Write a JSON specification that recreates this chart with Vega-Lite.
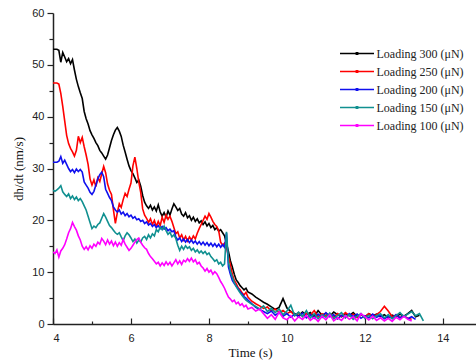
{
  "$schema": "https://vega.github.io/schema/vega-lite/v6.json",
  "width": 423,
  "height": 311,
  "autosize": {"type": "none"},
  "padding": {"left": 53, "top": 13, "right": 0, "bottom": 37},
  "background": "white",
  "config": {"view": {"stroke": null}},
  "data": {"values": [
    {"t":4.00,"300":53.0,"250":46.5,"200":31.2,"150":25.8,"100":13.9},
    {"t":4.05,"300":53.0,"250":46.5,"200":31.2,"150":25.6,"100":13.6},
    {"t":4.10,"300":53.0,"250":46.5,"200":31.2,"150":25.9,"100":14.3},
    {"t":4.15,"300":52.8,"250":46.3,"200":31.4,"150":26.2,"100":12.9},
    {"t":4.20,"300":50.5,"250":44.5,"200":32.3,"150":26.7,"100":14.1},
    {"t":4.25,"300":52.4,"250":42.0,"200":31.0,"150":25.5,"100":14.6},
    {"t":4.30,"300":51.5,"250":39.2,"200":31.6,"150":25.0,"100":15.3},
    {"t":4.35,"300":50.6,"250":36.4,"200":30.8,"150":24.6,"100":16.4},
    {"t":4.40,"300":51.2,"250":34.8,"200":30.0,"150":25.1,"100":17.6},
    {"t":4.45,"300":50.2,"250":33.9,"200":29.4,"150":24.2,"100":18.4},
    {"t":4.50,"300":51.0,"250":33.2,"200":29.8,"150":24.7,"100":19.6},
    {"t":4.55,"300":49.0,"250":32.4,"200":29.2,"150":24.0,"100":18.8},
    {"t":4.60,"300":47.2,"250":33.5,"200":29.9,"150":24.5,"100":18.1},
    {"t":4.65,"300":45.8,"250":36.2,"200":29.4,"150":23.8,"100":17.0},
    {"t":4.70,"300":44.6,"250":35.0,"200":29.8,"150":24.2,"100":16.2},
    {"t":4.75,"300":43.5,"250":36.0,"200":29.3,"150":23.6,"100":15.0},
    {"t":4.80,"300":41.0,"250":34.2,"200":27.4,"150":22.8,"100":14.4},
    {"t":4.85,"300":39.6,"250":32.6,"200":26.8,"150":22.0,"100":14.9},
    {"t":4.90,"300":38.6,"250":30.8,"200":26.2,"150":20.8,"100":14.3},
    {"t":4.95,"300":37.3,"250":28.0,"200":25.4,"150":19.6,"100":15.1},
    {"t":5.00,"300":36.5,"250":26.8,"200":25.0,"150":18.4,"100":14.6},
    {"t":5.05,"300":35.8,"250":27.8,"200":25.6,"150":18.9,"100":15.4},
    {"t":5.10,"300":35.0,"250":26.5,"200":26.8,"150":18.6,"100":15.0},
    {"t":5.15,"300":34.4,"250":28.2,"200":28.0,"150":19.2,"100":15.8},
    {"t":5.20,"300":33.5,"250":27.5,"200":28.8,"150":19.5,"100":15.4},
    {"t":5.25,"300":33.0,"250":29.0,"200":29.3,"150":20.4,"100":16.5},
    {"t":5.30,"300":32.4,"250":30.4,"200":28.4,"150":21.3,"100":16.0},
    {"t":5.35,"300":31.8,"250":29.2,"200":26.0,"150":20.6,"100":15.3},
    {"t":5.40,"300":32.6,"250":27.0,"200":25.2,"150":19.8,"100":16.2},
    {"t":5.45,"300":34.0,"250":25.8,"200":24.4,"150":19.0,"100":15.4},
    {"t":5.50,"300":35.4,"250":25.0,"200":23.8,"150":18.6,"100":16.0},
    {"t":5.55,"300":36.5,"250":22.0,"200":22.6,"150":18.1,"100":15.1},
    {"t":5.60,"300":37.4,"250":19.4,"200":22.0,"150":17.6,"100":15.8},
    {"t":5.65,"300":37.9,"250":21.5,"200":21.6,"150":17.3,"100":15.0},
    {"t":5.70,"300":37.2,"250":23.2,"200":22.0,"150":17.6,"100":15.7},
    {"t":5.75,"300":36.2,"250":22.5,"200":21.2,"150":16.8,"100":15.2},
    {"t":5.80,"300":34.5,"250":24.0,"200":21.6,"150":16.1,"100":16.3},
    {"t":5.85,"300":33.2,"250":25.2,"200":20.9,"150":17.0,"100":15.4},
    {"t":5.90,"300":31.8,"250":24.6,"200":21.3,"150":17.6,"100":14.8},
    {"t":5.95,"300":30.5,"250":26.0,"200":20.7,"150":17.2,"100":14.2},
    {"t":6.00,"300":29.6,"250":27.2,"200":21.0,"150":16.6,"100":14.6},
    {"t":6.05,"300":29.0,"250":30.5,"200":20.4,"150":15.9,"100":15.2},
    {"t":6.10,"300":28.2,"250":32.2,"200":20.7,"150":16.4,"100":15.8},
    {"t":6.15,"300":27.3,"250":30.0,"200":20.1,"150":15.6,"100":16.3},
    {"t":6.20,"300":27.8,"250":27.4,"200":20.3,"150":16.2,"100":16.6},
    {"t":6.25,"300":26.6,"250":25.4,"200":19.8,"150":15.8,"100":15.8},
    {"t":6.30,"300":24.8,"250":22.2,"200":20.0,"150":16.6,"100":15.2},
    {"t":6.35,"300":23.5,"250":21.0,"200":19.4,"150":16.9,"100":14.7},
    {"t":6.40,"300":22.8,"250":20.4,"200":19.7,"150":16.3,"100":14.4},
    {"t":6.45,"300":22.3,"250":19.6,"200":19.1,"150":17.2,"100":13.6},
    {"t":6.50,"300":22.9,"250":20.3,"200":19.4,"150":16.6,"100":13.0},
    {"t":6.55,"300":22.0,"250":19.2,"200":18.8,"150":17.4,"100":12.6},
    {"t":6.60,"300":22.6,"250":20.0,"200":19.2,"150":17.0,"100":12.1},
    {"t":6.65,"300":21.8,"250":18.8,"200":18.6,"150":18.2,"100":11.6},
    {"t":6.70,"300":23.0,"250":19.8,"200":19.0,"150":17.8,"100":11.9},
    {"t":6.75,"300":21.6,"250":19.0,"200":18.4,"150":18.7,"100":11.2},
    {"t":6.80,"300":20.8,"250":20.6,"200":18.8,"150":18.2,"100":11.8},
    {"t":6.85,"300":21.5,"250":19.6,"200":18.3,"150":18.9,"100":11.3},
    {"t":6.90,"300":20.6,"250":21.0,"200":18.6,"150":18.0,"100":12.0},
    {"t":6.95,"300":21.8,"250":20.2,"200":18.0,"150":17.3,"100":11.4},
    {"t":7.00,"300":21.0,"250":20.8,"200":18.3,"150":17.7,"100":11.9},
    {"t":7.05,"300":22.2,"250":19.8,"200":17.8,"150":16.8,"100":11.2},
    {"t":7.10,"300":23.2,"250":18.6,"200":18.0,"150":17.2,"100":11.8},
    {"t":7.15,"300":22.6,"250":17.4,"200":16.8,"150":16.5,"100":12.4},
    {"t":7.20,"300":21.9,"250":17.8,"200":16.2,"150":15.2,"100":11.6},
    {"t":7.25,"300":22.3,"250":16.6,"200":16.6,"150":14.2,"100":12.2},
    {"t":7.30,"300":21.2,"250":17.2,"200":15.9,"150":15.0,"100":11.5},
    {"t":7.35,"300":20.8,"250":16.2,"200":16.4,"150":14.4,"100":12.3},
    {"t":7.40,"300":21.5,"250":16.9,"200":15.8,"150":15.1,"100":12.0},
    {"t":7.45,"300":20.5,"250":16.0,"200":16.3,"150":14.6,"100":12.6},
    {"t":7.50,"300":20.9,"250":16.8,"200":15.7,"150":14.9,"100":12.1},
    {"t":7.55,"300":20.0,"250":16.2,"200":16.2,"150":14.2,"100":12.7},
    {"t":7.60,"300":20.6,"250":17.0,"200":15.6,"150":14.6,"100":12.0},
    {"t":7.65,"300":19.8,"250":16.4,"200":16.0,"150":13.9,"100":12.4},
    {"t":7.70,"300":20.3,"250":17.5,"200":15.4,"150":14.3,"100":11.6},
    {"t":7.75,"300":19.5,"250":18.4,"200":15.9,"150":13.7,"100":11.9},
    {"t":7.80,"300":19.9,"250":19.2,"200":15.3,"150":14.1,"100":11.2},
    {"t":7.85,"300":19.2,"250":20.0,"200":15.8,"150":13.6,"100":10.8},
    {"t":7.90,"300":19.7,"250":20.8,"200":15.2,"150":14.0,"100":10.2},
    {"t":7.95,"300":18.9,"250":20.2,"200":15.7,"150":13.4,"100":10.7},
    {"t":8.00,"300":19.4,"250":21.3,"200":15.1,"150":13.7,"100":10.0},
    {"t":8.05,"300":18.6,"250":20.6,"200":15.6,"150":13.0,"100":10.4},
    {"t":8.10,"300":19.0,"250":19.8,"200":15.0,"150":12.6,"100":9.6},
    {"t":8.15,"300":18.2,"250":19.2,"200":15.5,"150":12.1,"100":10.1},
    {"t":8.20,"300":18.6,"250":18.8,"200":14.9,"150":12.4,"100":9.7},
    {"t":8.25,"300":17.9,"250":18.0,"200":15.4,"150":11.6,"100":9.0},
    {"t":8.30,"300":18.2,"250":15.8,"200":14.8,"150":11.9,"100":8.2},
    {"t":8.35,"300":17.6,"250":15.2,"200":15.3,"150":11.2,"100":7.6},
    {"t":8.40,"300":17.0,"250":15.6,"200":14.8,"150":11.6,"100":6.9},
    {"t":8.45,"300":15.5,"250":14.8,"200":17.6,"150":17.8,"100":6.0},
    {"t":8.50,"300":14.0,"250":13.0,"200":11.0,"150":12.0,"100":5.2},
    {"t":8.55,"300":12.2,"250":11.4,"200":9.6,"150":10.2,"100":4.8},
    {"t":8.60,"300":11.0,"250":9.6,"200":8.4,"150":9.0,"100":4.3},
    {"t":8.65,"300":9.6,"250":8.4,"200":7.8,"150":8.0,"100":4.6},
    {"t":8.70,"300":8.5,"250":7.8,"200":7.3,"150":7.2,"100":3.9},
    {"t":8.75,"300":8.0,"250":7.0,"200":6.8,"150":6.6,"100":4.2},
    {"t":8.80,"300":7.4,"250":6.6,"200":6.2,"150":6.0,"100":3.6},
    {"t":8.85,"300":7.0,"250":6.0,"200":5.8,"150":5.5,"100":3.9},
    {"t":8.90,"300":6.6,"250":5.6,"200":5.3,"150":5.0,"100":3.3},
    {"t":8.95,"300":6.9,"250":6.1,"200":5.0,"150":4.6,"100":3.6},
    {"t":9.00,"300":6.2,"250":5.2,"200":4.6,"150":4.3,"100":2.9},
    {"t":9.1,"300":5.8,"250":4.4,"200":3.9,"150":3.8,"100":3.2},
    {"t":9.2,"300":5.2,"250":3.9,"200":3.2,"150":3.4,"100":2.5},
    {"t":9.3,"300":4.7,"250":3.5,"200":2.8,"150":2.9,"100":2.9},
    {"t":9.4,"300":4.2,"250":3.0,"200":2.4,"150":3.5,"100":2.0},
    {"t":9.5,"300":3.8,"250":3.3,"200":2.0,"150":2.4,"100":1.1},
    {"t":9.6,"300":3.3,"250":2.5,"200":2.5,"150":3.0,"100":1.8},
    {"t":9.7,"300":2.8,"250":2.9,"200":1.7,"150":2.2,"100":0.9},
    {"t":9.8,"300":3.2,"250":2.2,"200":2.2,"150":2.9,"100":2.3},
    {"t":9.9,"300":4.9,"250":2.6,"200":1.5,"150":1.8,"100":1.2},
    {"t":10.0,"300":3.1,"250":2.0,"200":2.0,"150":2.5,"100":0.8},
    {"t":10.1,"300":2.4,"250":2.4,"200":1.3,"150":3.6,"100":1.6},
    {"t":10.2,"300":2.0,"250":1.6,"200":1.9,"150":1.6,"100":0.6},
    {"t":10.3,"300":1.6,"250":2.2,"200":1.4,"150":2.3,"100":1.4},
    {"t":10.4,"300":2.3,"250":1.5,"200":2.1,"150":1.4,"100":0.9},
    {"t":10.5,"300":1.8,"250":2.1,"200":1.2,"150":2.6,"100":1.7},
    {"t":10.6,"300":2.2,"250":1.7,"200":1.8,"150":1.2,"100":0.7},
    {"t":10.7,"300":1.4,"250":2.6,"200":1.1,"150":2.0,"100":1.3},
    {"t":10.8,"300":2.6,"250":1.4,"200":1.9,"150":1.0,"100":0.5},
    {"t":10.9,"300":1.7,"250":2.0,"200":1.3,"150":1.8,"100":1.5},
    {"t":11.0,"300":2.1,"250":1.6,"200":2.2,"150":1.3,"100":0.8},
    {"t":11.1,"300":1.5,"250":1.9,"200":1.4,"150":2.1,"100":1.8},
    {"t":11.2,"300":2.3,"250":1.3,"200":1.8,"150":1.0,"100":0.6},
    {"t":11.3,"300":1.8,"250":2.0,"200":1.0,"150":1.6,"100":1.2},
    {"t":11.4,"300":1.4,"250":1.5,"200":1.7,"150":2.2,"100":0.7},
    {"t":11.5,"300":2.0,"250":2.2,"200":1.2,"150":1.2,"100":1.6},
    {"t":11.6,"300":1.6,"250":1.6,"200":2.0,"150":1.8,"100":0.9},
    {"t":11.7,"300":2.2,"250":1.9,"200":1.4,"150":0.9,"100":1.4},
    {"t":11.8,"300":1.5,"250":1.2,"200":1.9,"150":1.5,"100":0.6},
    {"t":11.9,"300":1.9,"250":1.8,"200":1.1,"150":2.0,"100":2.0},
    {"t":12.0,"300":1.3,"250":1.4,"200":1.6,"150":1.1,"100":1.4},
    {"t":12.1,"300":2.0,"250":2.0,"200":1.2,"150":1.7,"100":0.8},
    {"t":12.2,"300":1.6,"250":1.5,"200":1.9,"150":1.0,"100":1.5},
    {"t":12.3,"300":1.9,"250":1.8,"200":1.3,"150":1.6,"100":0.7},
    {"t":12.4,"300":1.4,"250":2.4,"200":1.7,"150":2.0,"100":1.2},
    {"t":12.5,"300":1.8,"250":3.4,"200":1.0,"150":1.2,"100":0.6},
    {"t":12.6,"300":1.2,"250":2.5,"200":1.5,"150":1.8,"100":1.1},
    {"t":12.7,"300":1.7,"250":1.4,"200":1.1,"150":1.0,"100":0.5},
    {"t":12.8,"300":1.4,"250":1.7,"200":1.8,"150":1.6,"100":1.3},
    {"t":12.9,"300":1.9,"250":1.2,"200":1.2,"150":2.2,"100":0.8},
    {"t":13.0,"300":1.5,"250":1.6,"200":1.6,"150":1.4,"100":1.5},
    {"t":13.1,"300":2.0,"250":1.1,"200":1.0,"150":1.9,"100":0.9},
    {"t":13.2,"300":2.6,"250":0.9,"200":1.4,"150":2.4,"100":0.6},
    {"t":13.3,"300":1.4,"250":null,"200":0.9,"150":1.6,"100":null},
    {"t":13.4,"300":1.7,"250":null,"200":null,"150":2.0,"100":null},
    {"t":13.5,"300":null,"250":null,"200":null,"150":0.6,"100":null}
  ]},
  "transform": [{"fold": ["300", "250", "200", "150", "100"], "as": ["load", "v"]}],
  "mark": {"type": "line", "strokeWidth": 1.6, "clip": true},
  "encoding": {
    "x": {
      "field": "t", "type": "quantitative",
      "scale": {"domain": [4, 14.85], "nice": false, "zero": false},
      "axis": {
        "title": "Time (s)",
        "values": [4, 5, 6, 7, 8, 9, 10, 11, 12, 13, 14],
        "labelExpr": "datum.value % 2 === 0 ? datum.label : ''",
        "tickSize": {"condition": {"test": "datum.value % 2 === 0", "value": -6}, "value": -3},
        "labelPadding": 14,
        "grid": false,
        "domainColor": "#222", "domainWidth": 1.5, "tickColor": "#222", "tickWidth": 1.2,
        "labelFont": "Liberation Sans", "labelFontSize": 11, "labelColor": "#222",
        "titleFont": "Liberation Serif", "titleFontSize": 13, "titleFontWeight": "normal", "titleColor": "#111",
        "titleX": 197, "titlePadding": 3
      }
    },
    "y": {
      "field": "v", "type": "quantitative",
      "scale": {"domain": [0, 60], "nice": false},
      "axis": {
        "title": "dh/dt (nm/s)",
        "values": [0, 5, 10, 15, 20, 25, 30, 35, 40, 45, 50, 55, 60],
        "labelExpr": "datum.value % 10 === 0 ? datum.label : ''",
        "tickSize": {"condition": {"test": "datum.value % 10 === 0", "value": 6}, "value": 4},
        "labelPadding": 3,
        "grid": false,
        "domainColor": "#222", "domainWidth": 1.5, "tickColor": "#222", "tickWidth": 1.2,
        "labelFont": "Liberation Sans", "labelFontSize": 11, "labelColor": "#222",
        "titleFont": "Liberation Serif", "titleFontSize": 13, "titleFontWeight": "normal", "titleColor": "#111",
        "titlePadding": 6
      }
    },
    "color": {
      "field": "load", "type": "nominal",
      "scale": {"domain": ["300", "250", "200", "150", "100"], "range": ["#000000", "#ff0000", "#1010ee", "#109090", "#ff00ff"]},
      "sort": ["300", "250", "200", "150", "100"],
      "legend": {
        "title": null,
        "orient": "none",
        "legendX": 294.5,
        "legendY": 31,
        "symbolType": "M-2,0L2,0M-0.08,-0.08L0.08,-0.08L0.08,0.08L-0.08,0.08Z",
        "symbolSize": 289,
        "symbolStrokeWidth": 1.5,
        "labelOffset": 10,
        "rowPadding": 2,
        "padding": 0,
        "labelFont": "Liberation Serif",
        "labelFontSize": 12,
        "labelColor": "#222",
        "labelExpr": "'Loading ' + datum.label + ' (μN)'"
      }
    }
  }
}
